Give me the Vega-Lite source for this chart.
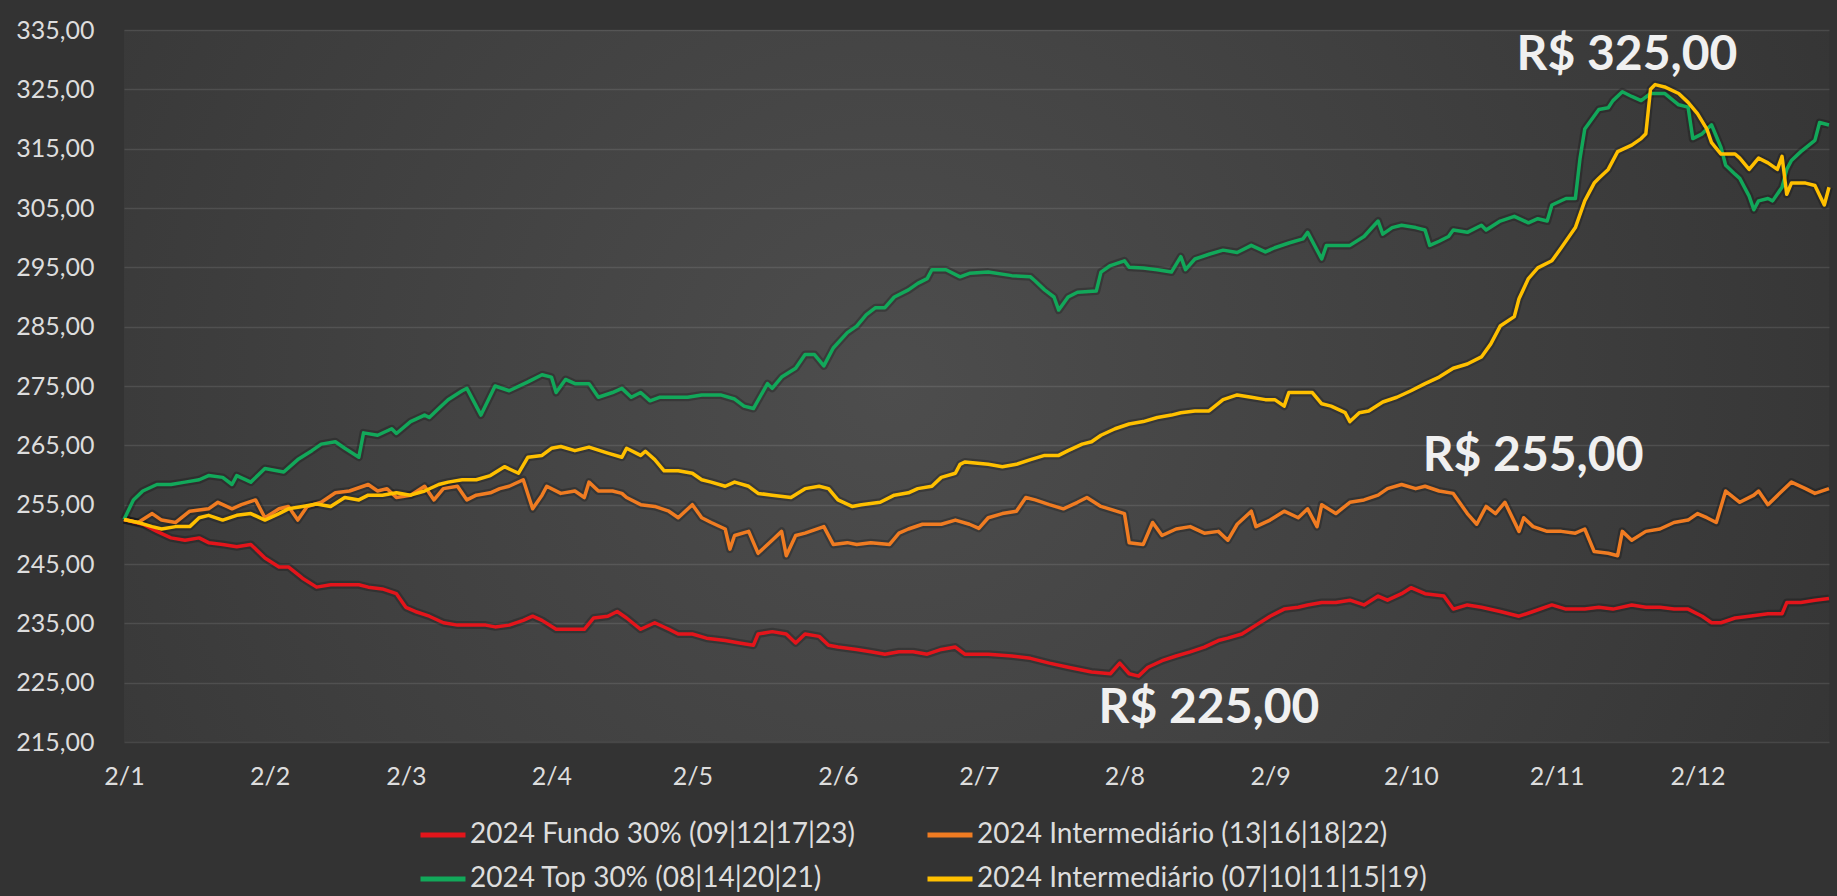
{
  "$schema": "https://vega.github.io/schema/vega-lite/v6.json",
  "width": 1705,
  "height": 712,
  "autosize": {"type": "none"},
  "padding": {"left": 124, "top": 30, "right": 8, "bottom": 154},
  "background": "#333333",
  "config": {
    "locale": {"number": {"decimal": ",", "thousands": ".", "grouping": [3], "currency": ["R$ ", ""]}},
    "view": {"stroke": null, "fill": {"gradient": "radial", "x1": 0.45, "y1": 0.5, "r1": 0, "x2": 0.45, "y2": 0.5, "r2": 0.75, "stops": [{"offset": 0, "color": "#4d4d4d"}, {"offset": 1, "color": "#2f2f2f"}]}},
    "font": "Lato",
    "axis": {"labelFont": "Lato", "labelFontSize": 25, "labelColor": "#dddddd", "ticks": false, "domain": false, "title": null},
    "legend": {"labelFont": "Lato", "labelFontSize": 28, "labelColor": "#dddddd", "labelLimit": 800}
  },
  "datasets": {
    "names": [
      {"code": "F", "name": "2024 Fundo 30% (09|12|17|23)"},
      {"code": "I13", "name": "2024 Intermediário (13|16|18|22)"},
      {"code": "T", "name": "2024 Top 30% (08|14|20|21)"},
      {"code": "I07", "name": "2024 Intermediário (07|10|11|15|19)"}
    ],
    "series": [
      {"series":"F","date":"2024-01-02","price":252.5},{"series":"F","date":"2024-01-06","price":251.7},{"series":"F","date":"2024-01-09","price":250.5},{"series":"F","date":"2024-01-12","price":249.4},{"series":"F","date":"2024-01-15","price":249.0},{"series":"F","date":"2024-01-18","price":249.4},{"series":"F","date":"2024-01-20","price":248.6},{"series":"F","date":"2024-01-23","price":248.3},{"series":"F","date":"2024-01-26","price":247.9},{"series":"F","date":"2024-01-29","price":248.3},
      {"series":"F","date":"2024-02-01","price":246.0},{"series":"F","date":"2024-02-04","price":244.5},{"series":"F","date":"2024-02-06","price":244.5},{"series":"F","date":"2024-02-09","price":242.6},{"series":"F","date":"2024-02-12","price":241.1},{"series":"F","date":"2024-02-15","price":241.5},{"series":"F","date":"2024-02-18","price":241.5},{"series":"F","date":"2024-02-21","price":241.5},{"series":"F","date":"2024-02-23","price":241.1},{"series":"F","date":"2024-02-26","price":240.8},{"series":"F","date":"2024-02-29","price":240.0},
      {"series":"F","date":"2024-03-02","price":237.7},{"series":"F","date":"2024-03-04","price":237.0},{"series":"F","date":"2024-03-07","price":236.2},{"series":"F","date":"2024-03-10","price":235.1},{"series":"F","date":"2024-03-13","price":234.7},{"series":"F","date":"2024-03-16","price":234.7},{"series":"F","date":"2024-03-19","price":234.7},{"series":"F","date":"2024-03-21","price":234.4},{"series":"F","date":"2024-03-24","price":234.7},{"series":"F","date":"2024-03-27","price":235.5},{"series":"F","date":"2024-03-29","price":236.2},{"series":"F","date":"2024-03-31","price":235.5},
      {"series":"F","date":"2024-04-03","price":234.0},{"series":"F","date":"2024-04-07","price":234.0},{"series":"F","date":"2024-04-09","price":234.0},{"series":"F","date":"2024-04-11","price":235.9},{"series":"F","date":"2024-04-14","price":236.2},{"series":"F","date":"2024-04-16","price":237.0},{"series":"F","date":"2024-04-18","price":235.9},{"series":"F","date":"2024-04-21","price":234.0},{"series":"F","date":"2024-04-24","price":235.1},{"series":"F","date":"2024-04-27","price":234.0},{"series":"F","date":"2024-04-29","price":233.2},
      {"series":"F","date":"2024-05-02","price":233.2},{"series":"F","date":"2024-05-05","price":232.5},{"series":"F","date":"2024-05-09","price":232.1},{"series":"F","date":"2024-05-12","price":231.7},{"series":"F","date":"2024-05-15","price":231.3},{"series":"F","date":"2024-05-16","price":233.2},{"series":"F","date":"2024-05-19","price":233.6},{"series":"F","date":"2024-05-22","price":233.2},{"series":"F","date":"2024-05-24","price":231.7},{"series":"F","date":"2024-05-26","price":233.2},{"series":"F","date":"2024-05-29","price":232.8},{"series":"F","date":"2024-05-31","price":231.3},
      {"series":"F","date":"2024-06-02","price":231.0},{"series":"F","date":"2024-06-06","price":230.6},{"series":"F","date":"2024-06-09","price":230.2},{"series":"F","date":"2024-06-12","price":229.8},{"series":"F","date":"2024-06-15","price":230.2},{"series":"F","date":"2024-06-18","price":230.2},{"series":"F","date":"2024-06-21","price":229.8},{"series":"F","date":"2024-06-24","price":230.6},{"series":"F","date":"2024-06-27","price":231.0},{"series":"F","date":"2024-06-29","price":229.8},
      {"series":"F","date":"2024-07-04","price":229.8},{"series":"F","date":"2024-07-09","price":229.5},{"series":"F","date":"2024-07-13","price":229.1},{"series":"F","date":"2024-07-17","price":228.3},{"series":"F","date":"2024-07-21","price":227.6},{"series":"F","date":"2024-07-26","price":226.8},{"series":"F","date":"2024-07-30","price":226.5},
      {"series":"F","date":"2024-08-01","price":228.3},{"series":"F","date":"2024-08-03","price":226.5},{"series":"F","date":"2024-08-05","price":226.1},{"series":"F","date":"2024-08-07","price":227.6},{"series":"F","date":"2024-08-10","price":228.7},{"series":"F","date":"2024-08-13","price":229.5},{"series":"F","date":"2024-08-16","price":230.2},{"series":"F","date":"2024-08-19","price":231.0},{"series":"F","date":"2024-08-22","price":232.1},{"series":"F","date":"2024-08-24","price":232.5},{"series":"F","date":"2024-08-27","price":233.2},{"series":"F","date":"2024-08-30","price":234.7},
      {"series":"F","date":"2024-09-02","price":236.2},{"series":"F","date":"2024-09-05","price":237.4},{"series":"F","date":"2024-09-08","price":237.7},{"series":"F","date":"2024-09-10","price":238.1},{"series":"F","date":"2024-09-13","price":238.5},{"series":"F","date":"2024-09-16","price":238.5},{"series":"F","date":"2024-09-19","price":238.9},{"series":"F","date":"2024-09-22","price":238.1},{"series":"F","date":"2024-09-25","price":239.6},{"series":"F","date":"2024-09-27","price":238.9},{"series":"F","date":"2024-09-30","price":240.0},
      {"series":"F","date":"2024-10-02","price":241.0},{"series":"F","date":"2024-10-05","price":240.0},{"series":"F","date":"2024-10-09","price":239.6},{"series":"F","date":"2024-10-11","price":237.4},{"series":"F","date":"2024-10-14","price":238.1},{"series":"F","date":"2024-10-17","price":237.7},{"series":"F","date":"2024-10-21","price":237.0},{"series":"F","date":"2024-10-25","price":236.2},{"series":"F","date":"2024-10-28","price":237.0},
      {"series":"F","date":"2024-11-01","price":238.1},{"series":"F","date":"2024-11-04","price":237.4},{"series":"F","date":"2024-11-08","price":237.4},{"series":"F","date":"2024-11-11","price":237.7},{"series":"F","date":"2024-11-14","price":237.4},{"series":"F","date":"2024-11-18","price":238.1},{"series":"F","date":"2024-11-21","price":237.7},{"series":"F","date":"2024-11-24","price":237.7},{"series":"F","date":"2024-11-27","price":237.4},{"series":"F","date":"2024-11-30","price":237.4},
      {"series":"F","date":"2024-12-03","price":236.2},{"series":"F","date":"2024-12-05","price":235.1},{"series":"F","date":"2024-12-07","price":235.1},{"series":"F","date":"2024-12-10","price":235.9},{"series":"F","date":"2024-12-13","price":236.2},{"series":"F","date":"2024-12-17","price":236.6},{"series":"F","date":"2024-12-20","price":236.6},{"series":"F","date":"2024-12-21","price":238.5},{"series":"F","date":"2024-12-24","price":238.5},{"series":"F","date":"2024-12-27","price":238.9},{"series":"F","date":"2024-12-30","price":239.2},

      {"series":"I13","date":"2024-01-02","price":252.5},{"series":"I13","date":"2024-01-05","price":252.0},{"series":"I13","date":"2024-01-08","price":253.5},{"series":"I13","date":"2024-01-10","price":252.4},{"series":"I13","date":"2024-01-13","price":252.0},{"series":"I13","date":"2024-01-16","price":253.9},{"series":"I13","date":"2024-01-20","price":254.3},{"series":"I13","date":"2024-01-22","price":255.4},{"series":"I13","date":"2024-01-25","price":254.3},{"series":"I13","date":"2024-01-27","price":255.0},{"series":"I13","date":"2024-01-30","price":255.8},
      {"series":"I13","date":"2024-02-01","price":252.8},{"series":"I13","date":"2024-02-04","price":254.3},{"series":"I13","date":"2024-02-06","price":254.7},{"series":"I13","date":"2024-02-08","price":252.4},{"series":"I13","date":"2024-02-10","price":254.7},{"series":"I13","date":"2024-02-13","price":255.4},{"series":"I13","date":"2024-02-16","price":257.0},{"series":"I13","date":"2024-02-19","price":257.3},{"series":"I13","date":"2024-02-23","price":258.4},{"series":"I13","date":"2024-02-25","price":257.3},{"series":"I13","date":"2024-02-27","price":257.7},{"series":"I13","date":"2024-02-29","price":256.2},
      {"series":"I13","date":"2024-03-03","price":256.6},{"series":"I13","date":"2024-03-06","price":258.1},{"series":"I13","date":"2024-03-08","price":255.8},{"series":"I13","date":"2024-03-10","price":257.7},{"series":"I13","date":"2024-03-13","price":258.1},{"series":"I13","date":"2024-03-15","price":255.8},{"series":"I13","date":"2024-03-17","price":256.6},{"series":"I13","date":"2024-03-20","price":257.0},{"series":"I13","date":"2024-03-22","price":257.7},{"series":"I13","date":"2024-03-24","price":258.1},{"series":"I13","date":"2024-03-27","price":259.2},{"series":"I13","date":"2024-03-29","price":254.3},{"series":"I13","date":"2024-03-31","price":256.6},
      {"series":"I13","date":"2024-04-01","price":258.1},{"series":"I13","date":"2024-04-04","price":256.9},{"series":"I13","date":"2024-04-07","price":257.3},{"series":"I13","date":"2024-04-09","price":256.2},{"series":"I13","date":"2024-04-10","price":258.8},{"series":"I13","date":"2024-04-12","price":257.3},{"series":"I13","date":"2024-04-15","price":257.3},{"series":"I13","date":"2024-04-17","price":256.9},{"series":"I13","date":"2024-04-18","price":256.2},{"series":"I13","date":"2024-04-21","price":255.0},{"series":"I13","date":"2024-04-24","price":254.7},{"series":"I13","date":"2024-04-27","price":253.9},{"series":"I13","date":"2024-04-29","price":252.8},
      {"series":"I13","date":"2024-05-02","price":255.0},{"series":"I13","date":"2024-05-04","price":252.8},{"series":"I13","date":"2024-05-06","price":252.0},{"series":"I13","date":"2024-05-09","price":250.9},{"series":"I13","date":"2024-05-10","price":247.5},{"series":"I13","date":"2024-05-11","price":249.8},{"series":"I13","date":"2024-05-14","price":250.5},{"series":"I13","date":"2024-05-16","price":246.8},{"series":"I13","date":"2024-05-19","price":249.0},{"series":"I13","date":"2024-05-21","price":250.5},{"series":"I13","date":"2024-05-22","price":246.4},{"series":"I13","date":"2024-05-24","price":249.8},{"series":"I13","date":"2024-05-26","price":250.2},{"series":"I13","date":"2024-05-30","price":251.3},
      {"series":"I13","date":"2024-06-01","price":248.3},{"series":"I13","date":"2024-06-04","price":248.6},{"series":"I13","date":"2024-06-06","price":248.3},{"series":"I13","date":"2024-06-09","price":248.6},{"series":"I13","date":"2024-06-13","price":248.3},{"series":"I13","date":"2024-06-15","price":250.2},{"series":"I13","date":"2024-06-17","price":250.9},{"series":"I13","date":"2024-06-20","price":251.7},{"series":"I13","date":"2024-06-24","price":251.7},{"series":"I13","date":"2024-06-27","price":252.4},{"series":"I13","date":"2024-06-30","price":251.7},
      {"series":"I13","date":"2024-07-02","price":251.0},{"series":"I13","date":"2024-07-04","price":252.8},{"series":"I13","date":"2024-07-07","price":253.5},{"series":"I13","date":"2024-07-10","price":253.9},{"series":"I13","date":"2024-07-12","price":256.2},{"series":"I13","date":"2024-07-14","price":255.8},{"series":"I13","date":"2024-07-17","price":255.0},{"series":"I13","date":"2024-07-20","price":254.3},{"series":"I13","date":"2024-07-23","price":255.4},{"series":"I13","date":"2024-07-25","price":256.2},{"series":"I13","date":"2024-07-28","price":254.7},
      {"series":"I13","date":"2024-08-02","price":253.5},{"series":"I13","date":"2024-08-03","price":248.6},{"series":"I13","date":"2024-08-06","price":248.3},{"series":"I13","date":"2024-08-08","price":252.0},{"series":"I13","date":"2024-08-10","price":249.8},{"series":"I13","date":"2024-08-13","price":250.9},{"series":"I13","date":"2024-08-16","price":251.3},{"series":"I13","date":"2024-08-19","price":250.2},{"series":"I13","date":"2024-08-22","price":250.5},{"series":"I13","date":"2024-08-24","price":249.0},{"series":"I13","date":"2024-08-26","price":251.7},{"series":"I13","date":"2024-08-29","price":253.9},{"series":"I13","date":"2024-08-30","price":251.3},
      {"series":"I13","date":"2024-09-02","price":252.4},{"series":"I13","date":"2024-09-05","price":253.9},{"series":"I13","date":"2024-09-08","price":252.8},{"series":"I13","date":"2024-09-10","price":254.3},{"series":"I13","date":"2024-09-12","price":251.3},{"series":"I13","date":"2024-09-13","price":255.0},{"series":"I13","date":"2024-09-16","price":253.5},{"series":"I13","date":"2024-09-19","price":255.4},{"series":"I13","date":"2024-09-22","price":255.8},{"series":"I13","date":"2024-09-25","price":256.6},{"series":"I13","date":"2024-09-27","price":257.7},{"series":"I13","date":"2024-09-30","price":258.4},
      {"series":"I13","date":"2024-10-03","price":257.7},{"series":"I13","date":"2024-10-05","price":258.1},{"series":"I13","date":"2024-10-08","price":257.3},{"series":"I13","date":"2024-10-11","price":256.9},{"series":"I13","date":"2024-10-14","price":253.5},{"series":"I13","date":"2024-10-16","price":251.7},{"series":"I13","date":"2024-10-18","price":254.7},{"series":"I13","date":"2024-10-20","price":253.5},{"series":"I13","date":"2024-10-22","price":255.4},{"series":"I13","date":"2024-10-25","price":250.5},{"series":"I13","date":"2024-10-26","price":252.8},{"series":"I13","date":"2024-10-28","price":251.3},{"series":"I13","date":"2024-10-31","price":250.5},
      {"series":"I13","date":"2024-11-03","price":250.5},{"series":"I13","date":"2024-11-06","price":250.2},{"series":"I13","date":"2024-11-08","price":250.9},{"series":"I13","date":"2024-11-10","price":247.1},{"series":"I13","date":"2024-11-13","price":246.8},{"series":"I13","date":"2024-11-15","price":246.4},{"series":"I13","date":"2024-11-16","price":250.5},{"series":"I13","date":"2024-11-18","price":249.0},{"series":"I13","date":"2024-11-21","price":250.5},{"series":"I13","date":"2024-11-24","price":250.9},{"series":"I13","date":"2024-11-27","price":252.0},{"series":"I13","date":"2024-11-30","price":252.4},
      {"series":"I13","date":"2024-12-02","price":253.5},{"series":"I13","date":"2024-12-04","price":252.8},{"series":"I13","date":"2024-12-06","price":252.0},{"series":"I13","date":"2024-12-08","price":257.3},{"series":"I13","date":"2024-12-11","price":255.4},{"series":"I13","date":"2024-12-14","price":256.6},{"series":"I13","date":"2024-12-15","price":257.3},{"series":"I13","date":"2024-12-17","price":255.0},{"series":"I13","date":"2024-12-20","price":257.3},{"series":"I13","date":"2024-12-22","price":258.8},{"series":"I13","date":"2024-12-25","price":257.7},{"series":"I13","date":"2024-12-27","price":256.9},{"series":"I13","date":"2024-12-30","price":257.7},

      {"series":"T","date":"2024-01-02","price":252.5},{"series":"T","date":"2024-01-04","price":255.8},{"series":"T","date":"2024-01-06","price":257.3},{"series":"T","date":"2024-01-09","price":258.4},{"series":"T","date":"2024-01-12","price":258.4},{"series":"T","date":"2024-01-15","price":258.8},{"series":"T","date":"2024-01-18","price":259.2},{"series":"T","date":"2024-01-20","price":259.9},{"series":"T","date":"2024-01-23","price":259.6},{"series":"T","date":"2024-01-25","price":258.4},{"series":"T","date":"2024-01-26","price":259.9},{"series":"T","date":"2024-01-29","price":258.8},
      {"series":"T","date":"2024-02-01","price":261.1},{"series":"T","date":"2024-02-05","price":260.5},{"series":"T","date":"2024-02-08","price":262.6},{"series":"T","date":"2024-02-11","price":264.1},{"series":"T","date":"2024-02-13","price":265.2},{"series":"T","date":"2024-02-16","price":265.6},{"series":"T","date":"2024-02-18","price":264.5},{"series":"T","date":"2024-02-21","price":263.0},{"series":"T","date":"2024-02-22","price":267.1},{"series":"T","date":"2024-02-25","price":266.7},{"series":"T","date":"2024-02-28","price":267.8},{"series":"T","date":"2024-02-29","price":267.0},
      {"series":"T","date":"2024-03-03","price":269.0},{"series":"T","date":"2024-03-06","price":270.1},{"series":"T","date":"2024-03-07","price":269.7},{"series":"T","date":"2024-03-09","price":271.2},{"series":"T","date":"2024-03-11","price":272.7},{"series":"T","date":"2024-03-14","price":274.2},{"series":"T","date":"2024-03-15","price":274.6},{"series":"T","date":"2024-03-18","price":270.1},{"series":"T","date":"2024-03-21","price":275.0},{"series":"T","date":"2024-03-24","price":274.2},{"series":"T","date":"2024-03-28","price":275.7},{"series":"T","date":"2024-03-31","price":276.9},
      {"series":"T","date":"2024-04-02","price":276.5},{"series":"T","date":"2024-04-03","price":273.9},{"series":"T","date":"2024-04-05","price":276.1},{"series":"T","date":"2024-04-07","price":275.4},{"series":"T","date":"2024-04-10","price":275.4},{"series":"T","date":"2024-04-12","price":273.1},{"series":"T","date":"2024-04-15","price":273.9},{"series":"T","date":"2024-04-17","price":274.6},{"series":"T","date":"2024-04-19","price":273.1},{"series":"T","date":"2024-04-21","price":273.9},{"series":"T","date":"2024-04-23","price":272.5},{"series":"T","date":"2024-04-25","price":273.1},
      {"series":"T","date":"2024-05-01","price":273.1},{"series":"T","date":"2024-05-04","price":273.5},{"series":"T","date":"2024-05-08","price":273.5},{"series":"T","date":"2024-05-11","price":272.8},{"series":"T","date":"2024-05-13","price":271.6},{"series":"T","date":"2024-05-15","price":271.2},{"series":"T","date":"2024-05-18","price":275.4},{"series":"T","date":"2024-05-19","price":274.6},{"series":"T","date":"2024-05-21","price":276.5},{"series":"T","date":"2024-05-24","price":278.0},{"series":"T","date":"2024-05-26","price":280.3},{"series":"T","date":"2024-05-28","price":280.3},{"series":"T","date":"2024-05-30","price":278.4},
      {"series":"T","date":"2024-06-01","price":281.4},{"series":"T","date":"2024-06-04","price":284.0},{"series":"T","date":"2024-06-06","price":285.1},{"series":"T","date":"2024-06-08","price":287.0},{"series":"T","date":"2024-06-10","price":288.2},{"series":"T","date":"2024-06-12","price":288.2},{"series":"T","date":"2024-06-14","price":290.0},{"series":"T","date":"2024-06-17","price":291.2},{"series":"T","date":"2024-06-19","price":292.3},{"series":"T","date":"2024-06-21","price":293.1},{"series":"T","date":"2024-06-22","price":294.6},{"series":"T","date":"2024-06-25","price":294.6},{"series":"T","date":"2024-06-28","price":293.4},{"series":"T","date":"2024-06-30","price":294.0},
      {"series":"T","date":"2024-07-04","price":294.2},{"series":"T","date":"2024-07-09","price":293.6},{"series":"T","date":"2024-07-13","price":293.4},{"series":"T","date":"2024-07-14","price":292.7},{"series":"T","date":"2024-07-16","price":291.2},{"series":"T","date":"2024-07-18","price":290.0},{"series":"T","date":"2024-07-19","price":287.8},{"series":"T","date":"2024-07-21","price":290.0},{"series":"T","date":"2024-07-23","price":290.8},{"series":"T","date":"2024-07-27","price":291.0},{"series":"T","date":"2024-07-28","price":294.2},{"series":"T","date":"2024-07-30","price":295.3},
      {"series":"T","date":"2024-08-02","price":296.1},{"series":"T","date":"2024-08-03","price":295.0},{"series":"T","date":"2024-08-06","price":294.9},{"series":"T","date":"2024-08-09","price":294.6},{"series":"T","date":"2024-08-12","price":294.2},{"series":"T","date":"2024-08-14","price":296.8},{"series":"T","date":"2024-08-15","price":294.6},{"series":"T","date":"2024-08-17","price":296.4},{"series":"T","date":"2024-08-20","price":297.2},{"series":"T","date":"2024-08-23","price":297.9},{"series":"T","date":"2024-08-26","price":297.5},{"series":"T","date":"2024-08-29","price":298.7},
      {"series":"T","date":"2024-09-01","price":297.6},{"series":"T","date":"2024-09-03","price":298.3},{"series":"T","date":"2024-09-06","price":299.1},{"series":"T","date":"2024-09-09","price":299.8},{"series":"T","date":"2024-09-10","price":300.9},{"series":"T","date":"2024-09-13","price":296.4},{"series":"T","date":"2024-09-14","price":298.7},{"series":"T","date":"2024-09-19","price":298.7},{"series":"T","date":"2024-09-22","price":300.2},{"series":"T","date":"2024-09-25","price":302.8},{"series":"T","date":"2024-09-26","price":300.6},{"series":"T","date":"2024-09-28","price":301.7},{"series":"T","date":"2024-09-30","price":302.1},
      {"series":"T","date":"2024-10-03","price":301.7},{"series":"T","date":"2024-10-05","price":301.3},{"series":"T","date":"2024-10-06","price":298.7},{"series":"T","date":"2024-10-08","price":299.4},{"series":"T","date":"2024-10-10","price":300.2},{"series":"T","date":"2024-10-11","price":301.3},{"series":"T","date":"2024-10-14","price":300.9},{"series":"T","date":"2024-10-17","price":302.1},{"series":"T","date":"2024-10-18","price":301.3},{"series":"T","date":"2024-10-21","price":302.8},{"series":"T","date":"2024-10-24","price":303.6},{"series":"T","date":"2024-10-27","price":302.5},{"series":"T","date":"2024-10-29","price":303.2},{"series":"T","date":"2024-10-31","price":302.8},
      {"series":"T","date":"2024-11-01","price":305.5},{"series":"T","date":"2024-11-04","price":306.6},{"series":"T","date":"2024-11-06","price":306.6},{"series":"T","date":"2024-11-07","price":313.4},{"series":"T","date":"2024-11-08","price":318.3},{"series":"T","date":"2024-11-10","price":320.5},{"series":"T","date":"2024-11-11","price":321.6},{"series":"T","date":"2024-11-13","price":321.9},{"series":"T","date":"2024-11-14","price":323.1},{"series":"T","date":"2024-11-16","price":324.6},{"series":"T","date":"2024-11-18","price":323.8},{"series":"T","date":"2024-11-20","price":323.1},{"series":"T","date":"2024-11-22","price":324.3},{"series":"T","date":"2024-11-25","price":324.3},{"series":"T","date":"2024-11-28","price":322.4},{"series":"T","date":"2024-11-30","price":322.0},
      {"series":"T","date":"2024-12-01","price":316.7},{"series":"T","date":"2024-12-03","price":317.5},{"series":"T","date":"2024-12-04","price":318.3},{"series":"T","date":"2024-12-05","price":319.0},{"series":"T","date":"2024-12-07","price":315.2},{"series":"T","date":"2024-12-08","price":312.2},{"series":"T","date":"2024-12-10","price":310.7},{"series":"T","date":"2024-12-11","price":310.0},{"series":"T","date":"2024-12-13","price":307.0},{"series":"T","date":"2024-12-14","price":304.7},{"series":"T","date":"2024-12-15","price":306.2},{"series":"T","date":"2024-12-17","price":306.6},{"series":"T","date":"2024-12-18","price":306.2},{"series":"T","date":"2024-12-20","price":308.5},{"series":"T","date":"2024-12-21","price":311.5},{"series":"T","date":"2024-12-22","price":313.0},{"series":"T","date":"2024-12-24","price":314.5},{"series":"T","date":"2024-12-27","price":316.4},{"series":"T","date":"2024-12-28","price":319.4},{"series":"T","date":"2024-12-30","price":319.0},

      {"series":"I07","date":"2024-01-02","price":252.5},{"series":"I07","date":"2024-01-05","price":252.0},{"series":"I07","date":"2024-01-08","price":251.3},{"series":"I07","date":"2024-01-10","price":250.9},{"series":"I07","date":"2024-01-13","price":251.3},{"series":"I07","date":"2024-01-16","price":251.3},{"series":"I07","date":"2024-01-18","price":252.8},{"series":"I07","date":"2024-01-20","price":253.2},{"series":"I07","date":"2024-01-23","price":252.4},{"series":"I07","date":"2024-01-26","price":253.2},{"series":"I07","date":"2024-01-29","price":253.5},
      {"series":"I07","date":"2024-02-01","price":252.4},{"series":"I07","date":"2024-02-04","price":253.5},{"series":"I07","date":"2024-02-06","price":254.3},{"series":"I07","date":"2024-02-09","price":254.7},{"series":"I07","date":"2024-02-12","price":255.1},{"series":"I07","date":"2024-02-15","price":254.7},{"series":"I07","date":"2024-02-18","price":256.2},{"series":"I07","date":"2024-02-21","price":255.8},{"series":"I07","date":"2024-02-23","price":256.6},{"series":"I07","date":"2024-02-26","price":256.6},{"series":"I07","date":"2024-02-29","price":257.0},
      {"series":"I07","date":"2024-03-03","price":256.6},{"series":"I07","date":"2024-03-06","price":257.3},{"series":"I07","date":"2024-03-09","price":258.4},{"series":"I07","date":"2024-03-11","price":258.8},{"series":"I07","date":"2024-03-14","price":259.2},{"series":"I07","date":"2024-03-17","price":259.2},{"series":"I07","date":"2024-03-20","price":259.9},{"series":"I07","date":"2024-03-23","price":261.4},{"series":"I07","date":"2024-03-26","price":260.3},{"series":"I07","date":"2024-03-28","price":263.0},{"series":"I07","date":"2024-03-31","price":263.3},
      {"series":"I07","date":"2024-04-02","price":264.5},{"series":"I07","date":"2024-04-04","price":264.8},{"series":"I07","date":"2024-04-07","price":264.1},{"series":"I07","date":"2024-04-10","price":264.7},{"series":"I07","date":"2024-04-14","price":263.7},{"series":"I07","date":"2024-04-17","price":263.0},{"series":"I07","date":"2024-04-18","price":264.5},{"series":"I07","date":"2024-04-21","price":263.3},{"series":"I07","date":"2024-04-22","price":264.0},{"series":"I07","date":"2024-04-24","price":262.6},{"series":"I07","date":"2024-04-26","price":260.7},{"series":"I07","date":"2024-04-29","price":260.7},
      {"series":"I07","date":"2024-05-02","price":260.3},{"series":"I07","date":"2024-05-04","price":259.2},{"series":"I07","date":"2024-05-06","price":258.8},{"series":"I07","date":"2024-05-09","price":258.1},{"series":"I07","date":"2024-05-11","price":258.8},{"series":"I07","date":"2024-05-14","price":258.1},{"series":"I07","date":"2024-05-16","price":256.9},{"series":"I07","date":"2024-05-19","price":256.6},{"series":"I07","date":"2024-05-23","price":256.2},{"series":"I07","date":"2024-05-26","price":257.7},{"series":"I07","date":"2024-05-29","price":258.1},{"series":"I07","date":"2024-05-31","price":257.7},
      {"series":"I07","date":"2024-06-02","price":255.8},{"series":"I07","date":"2024-06-05","price":254.7},{"series":"I07","date":"2024-06-07","price":255.0},{"series":"I07","date":"2024-06-11","price":255.4},{"series":"I07","date":"2024-06-14","price":256.6},{"series":"I07","date":"2024-06-17","price":257.0},{"series":"I07","date":"2024-06-19","price":257.7},{"series":"I07","date":"2024-06-22","price":258.1},{"series":"I07","date":"2024-06-24","price":259.6},{"series":"I07","date":"2024-06-27","price":260.3},{"series":"I07","date":"2024-06-28","price":261.8},{"series":"I07","date":"2024-06-29","price":262.2},
      {"series":"I07","date":"2024-07-04","price":261.8},{"series":"I07","date":"2024-07-07","price":261.4},{"series":"I07","date":"2024-07-10","price":261.8},{"series":"I07","date":"2024-07-13","price":262.6},{"series":"I07","date":"2024-07-16","price":263.3},{"series":"I07","date":"2024-07-19","price":263.3},{"series":"I07","date":"2024-07-21","price":264.1},{"series":"I07","date":"2024-07-24","price":265.2},{"series":"I07","date":"2024-07-26","price":265.6},{"series":"I07","date":"2024-07-28","price":266.7},{"series":"I07","date":"2024-07-31","price":267.8},
      {"series":"I07","date":"2024-08-03","price":268.6},{"series":"I07","date":"2024-08-06","price":269.0},{"series":"I07","date":"2024-08-09","price":269.7},{"series":"I07","date":"2024-08-12","price":270.1},{"series":"I07","date":"2024-08-14","price":270.5},{"series":"I07","date":"2024-08-17","price":270.8},{"series":"I07","date":"2024-08-20","price":270.8},{"series":"I07","date":"2024-08-23","price":272.7},{"series":"I07","date":"2024-08-26","price":273.5},{"series":"I07","date":"2024-08-29","price":273.1},
      {"series":"I07","date":"2024-09-01","price":272.7},{"series":"I07","date":"2024-09-03","price":272.7},{"series":"I07","date":"2024-09-05","price":271.6},{"series":"I07","date":"2024-09-06","price":273.9},{"series":"I07","date":"2024-09-09","price":273.9},{"series":"I07","date":"2024-09-11","price":273.9},{"series":"I07","date":"2024-09-13","price":272.0},{"series":"I07","date":"2024-09-15","price":271.6},{"series":"I07","date":"2024-09-18","price":270.5},{"series":"I07","date":"2024-09-19","price":269.0},{"series":"I07","date":"2024-09-21","price":270.5},{"series":"I07","date":"2024-09-23","price":270.8},{"series":"I07","date":"2024-09-26","price":272.3},{"series":"I07","date":"2024-09-29","price":273.1},
      {"series":"I07","date":"2024-10-02","price":274.2},{"series":"I07","date":"2024-10-05","price":275.4},{"series":"I07","date":"2024-10-08","price":276.5},{"series":"I07","date":"2024-10-11","price":278.0},{"series":"I07","date":"2024-10-14","price":278.7},{"series":"I07","date":"2024-10-17","price":279.9},{"series":"I07","date":"2024-10-19","price":282.1},{"series":"I07","date":"2024-10-21","price":285.1},{"series":"I07","date":"2024-10-24","price":286.7},{"series":"I07","date":"2024-10-25","price":289.7},{"series":"I07","date":"2024-10-27","price":293.1},{"series":"I07","date":"2024-10-29","price":294.9},
      {"series":"I07","date":"2024-11-01","price":296.1},{"series":"I07","date":"2024-11-03","price":298.3},{"series":"I07","date":"2024-11-06","price":301.7},{"series":"I07","date":"2024-11-08","price":306.2},{"series":"I07","date":"2024-11-10","price":309.2},{"series":"I07","date":"2024-11-11","price":310.0},{"series":"I07","date":"2024-11-13","price":311.5},{"series":"I07","date":"2024-11-15","price":314.5},{"series":"I07","date":"2024-11-18","price":315.6},{"series":"I07","date":"2024-11-20","price":316.7},{"series":"I07","date":"2024-11-21","price":317.5},{"series":"I07","date":"2024-11-22","price":325.0},{"series":"I07","date":"2024-11-23","price":325.8},{"series":"I07","date":"2024-11-25","price":325.4},{"series":"I07","date":"2024-11-28","price":324.3},{"series":"I07","date":"2024-11-30","price":322.8},
      {"series":"I07","date":"2024-12-02","price":320.9},{"series":"I07","date":"2024-12-04","price":318.3},{"series":"I07","date":"2024-12-05","price":316.0},{"series":"I07","date":"2024-12-07","price":314.1},{"series":"I07","date":"2024-12-10","price":314.1},{"series":"I07","date":"2024-12-11","price":313.4},{"series":"I07","date":"2024-12-13","price":311.5},{"series":"I07","date":"2024-12-15","price":313.4},{"series":"I07","date":"2024-12-17","price":312.6},{"series":"I07","date":"2024-12-19","price":311.5},{"series":"I07","date":"2024-12-20","price":313.7},{"series":"I07","date":"2024-12-21","price":307.3},{"series":"I07","date":"2024-12-22","price":309.2},{"series":"I07","date":"2024-12-25","price":309.2},{"series":"I07","date":"2024-12-27","price":308.8},{"series":"I07","date":"2024-12-29","price":305.5},{"series":"I07","date":"2024-12-30","price":308.5}
    ]
  },
  "encoding": {
    "x": {
      "field": "date", "type": "temporal",
      "scale": {"type": "utc", "domain": [{"year": 2024, "month": 1, "date": 2, "utc": true}, {"year": 2024, "month": 12, "date": 30, "utc": true}]},
      "axis": {
        "grid": false, "format": "%-d/%-m", "labelPadding": 22, "labelAlign": "center",
        "values": [
          {"year": 2024, "month": 1, "date": 2, "utc": true},
          {"year": 2024, "month": 2, "date": 2, "utc": true},
          {"year": 2024, "month": 3, "date": 2, "utc": true},
          {"year": 2024, "month": 4, "date": 2, "utc": true},
          {"year": 2024, "month": 5, "date": 2, "utc": true},
          {"year": 2024, "month": 6, "date": 2, "utc": true},
          {"year": 2024, "month": 7, "date": 2, "utc": true},
          {"year": 2024, "month": 8, "date": 2, "utc": true},
          {"year": 2024, "month": 9, "date": 2, "utc": true},
          {"year": 2024, "month": 10, "date": 2, "utc": true},
          {"year": 2024, "month": 11, "date": 2, "utc": true},
          {"year": 2024, "month": 12, "date": 2, "utc": true}
        ]
      }
    },
    "y": {
      "field": "price", "type": "quantitative",
      "scale": {"domain": [215, 335], "nice": false, "zero": false},
      "axis": {
        "values": [215, 225, 235, 245, 255, 265, 275, 285, 295, 305, 315, 325, 335],
        "format": ".2f", "labelPadding": 30, "grid": true,
        "gridColor": "#ffffff", "gridOpacity": 0.1, "gridWidth": 1.5
      }
    }
  },
  "layer": [
    {
      "data": {"name": "series"},
      "mark": {"type": "line", "stroke": "#000000", "strokeWidth": 8, "opacity": 0.22, "strokeJoin": "round"},
      "encoding": {"detail": {"field": "series", "type": "nominal"}}
    },
    {
      "data": {"name": "series"},
      "transform": [{"lookup": "series", "from": {"data": {"name": "names"}, "key": "code", "fields": ["name"]}}],
      "mark": {"type": "line", "strokeWidth": 3.5, "strokeJoin": "round"},
      "encoding": {
        "color": {
          "field": "name", "type": "nominal",
          "scale": {
            "domain": ["2024 Fundo 30% (09|12|17|23)", "2024 Top 30% (08|14|20|21)", "2024 Intermediário (13|16|18|22)", "2024 Intermediário (07|10|11|15|19)"],
            "range": ["#e3151b", "#12a85a", "#f07c22", "#ffc000"]
          },
          "legend": {
            "title": null, "orient": "none", "legendX": 294, "legendY": 780,
            "columns": 2, "columnPadding": 62, "rowPadding": 5,
            "symbolType": "stroke", "symbolSize": 2025, "symbolStrokeWidth": 5, "labelOffset": 2
          }
        }
      }
    },
    {
      "data": {"values": [
        {"date": "2024-11-17", "price": 330.6, "label": "R$ 325,00"},
        {"date": "2024-10-28", "price": 263.0, "label": "R$ 255,00"},
        {"date": "2024-08-20", "price": 220.6, "label": "R$ 225,00"}
      ]},
      "mark": {"type": "text", "font": "Lato", "fontSize": 48, "fontWeight": "bold", "color": "#f0f0f0", "align": "center", "baseline": "middle"},
      "encoding": {"text": {"field": "label", "type": "nominal"}}
    }
  ]
}
